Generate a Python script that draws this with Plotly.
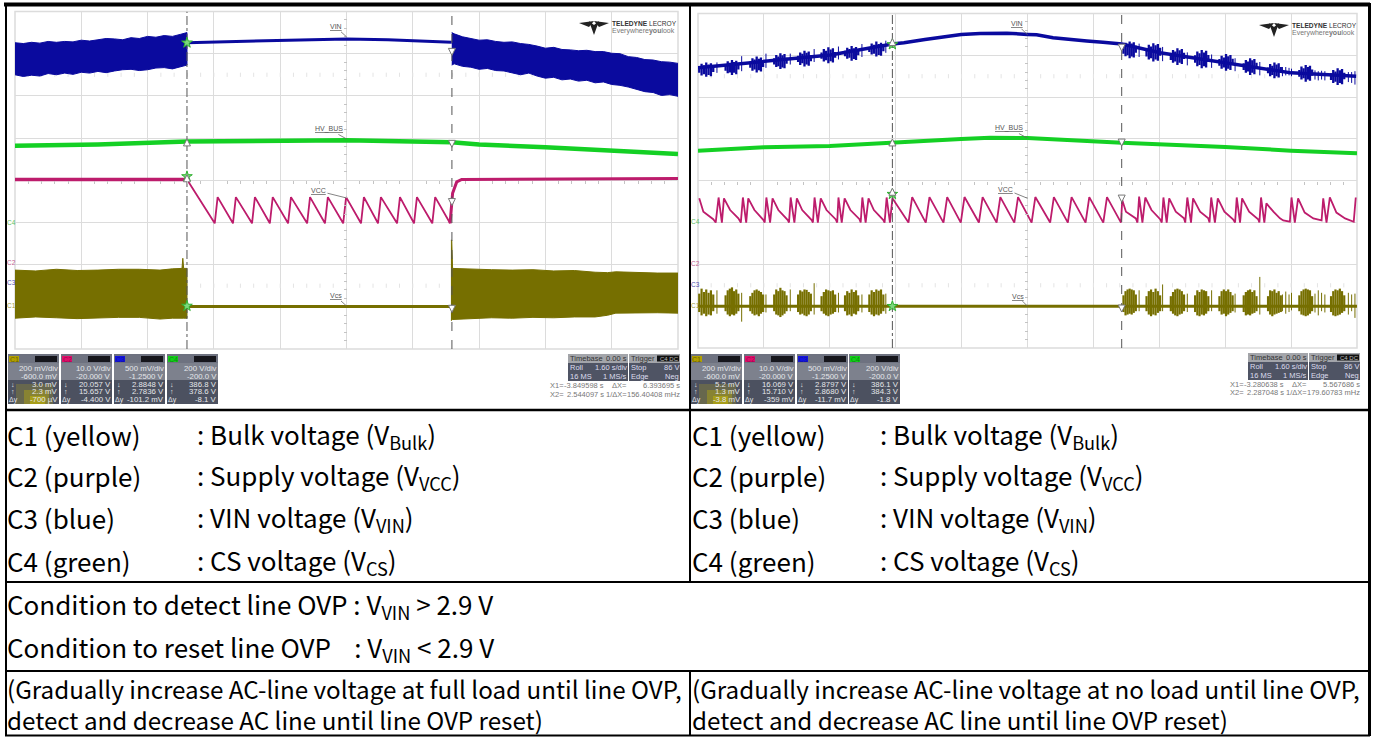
import numpy as np
import plotly.graph_objects as go

W, H = 1375, 738

# ---------- readings: time in seconds, level in scope divisions from screen centre ----------
cursor_left = [-3.849598, 2.544097]
cursor_right = [-3.280638, 2.287048]

# LEFT SCREEN
l_c3_band1_t = [-8.0, -7.8, -7.6, -7.4, -7.2, -7.0, -6.8, -6.6, -6.4, -6.2, -6.0, -5.8, -5.6, -5.4, -5.2, -5.0, -4.8,
                -4.6, -4.4, -4.2, -4.0, -3.85]
l_c3_band1_top = [3.26, 3.24, 3.27, 3.25, 3.29, 3.27, 3.29, 3.28, 3.32, 3.30, 3.33, 3.36, 3.35, 3.33, 3.38, 3.36, 3.41,
                  3.39, 3.43, 3.41, 3.46, 3.50]
l_c3_band1_bot = [2.50, 2.46, 2.49, 2.47, 2.53, 2.50, 2.54, 2.51, 2.56, 2.54, 2.58, 2.55, 2.59, 2.62, 2.63, 2.60, 2.62,
                  2.66, 2.67, 2.64, 2.69, 2.73]
l_c3_thin_t = [-3.85, -3.0, -2.0, -1.0, 0.0, 1.0, 2.0, 2.54]
l_c3_thin = [3.26, 3.28, 3.32, 3.33, 3.35, 3.33, 3.29, 3.27]
l_c3_band2_t = [2.54, 2.6, 2.8, 3.0, 3.2, 3.4, 3.6, 3.8, 4.0, 4.2, 4.4, 4.6, 4.8, 5.0, 5.2, 5.4, 5.6, 5.8, 6.0, 6.2,
                6.4, 6.6, 6.8, 7.0, 7.2, 7.4, 7.6, 7.8, 8.0]
l_c3_band2_top = [3.50, 3.47, 3.40, 3.36, 3.32, 3.33, 3.29, 3.27, 3.28, 3.24, 3.22, 3.18, 3.13, 3.15, 3.10, 3.09, 3.07,
                  3.08, 3.05, 3.05, 3.01, 3.00, 2.93, 2.91, 2.86, 2.85, 2.81, 2.80, 2.77]
l_c3_band2_bot = [2.73, 2.76, 2.70, 2.68, 2.63, 2.65, 2.60, 2.59, 2.55, 2.50, 2.54, 2.47, 2.42, 2.44, 2.38, 2.40, 2.35,
                  2.37, 2.31, 2.33, 2.27, 2.25, 2.21, 2.16, 2.10, 2.08, 2.01, 2.03, 1.99]
l_c4_t = [-8.0, -6.0, -3.85, 0.0, 2.54, 3.2, 4.8, 6.4, 8.0]
l_c4 = [0.82, 0.85, 0.92, 0.95, 0.90, 0.85, 0.78, 0.71, 0.62]
l_c2_flat_t = [-8.0, -3.85]
l_c2_flat = [0.02, 0.02]
l_c2_saw_t = [-3.85, -3.18, -3.11, -2.74, -2.67, -2.28, -2.21, -1.85, -1.78, -1.41, -1.34, -0.95, -0.88,
              -0.52, -0.45, -0.08, -0.01, 0.35, 0.42, 0.76, 0.83, 1.22, 1.29, 1.63, 1.70, 2.07, 2.14, 2.50,
              2.56, 2.66, 2.78, 8.0]
l_c2_saw = [0.02, -1.02, -0.40, -1.02, -0.40, -1.02, -0.40, -1.02, -0.40, -1.02, -0.40, -1.02, -0.40,
            -1.02, -0.40, -1.02, -0.40, -1.02, -0.40, -1.02, -0.40, -1.02, -0.40, -1.02, -0.40, -1.02, -0.40, -1.02,
            -0.31, -0.04, 0.02, 0.04]
l_c1_band1_t = [-8.0, -7.5, -7.0, -6.5, -6.0, -5.5, -5.0, -4.5, -4.2, -3.97, -3.95, -3.93, -3.85]
l_c1_band1_top = [-2.13, -2.15, -2.11, -2.14, -2.13, -2.11, -2.11, -2.13, -2.10, -2.09, -1.85, -2.09, -2.09]
l_c1_band1_bot = [-3.27, -3.24, -3.26, -3.28, -3.27, -3.25, -3.25, -3.29, -3.27, -3.26, -3.27, -3.27, -3.27]
l_c1_thin_t = [-3.85, 2.50]
l_c1_thin = [-2.99, -2.99]
l_c1_band2_t = [2.52, 2.54, 2.56, 3.0, 3.5, 4.0, 4.5, 5.0, 5.5, 6.0, 6.3, 6.5, 7.0, 7.5, 8.0]
l_c1_band2_top = [-1.42, -1.42, -2.09, -2.11, -2.12, -2.13, -2.12, -2.15, -2.14, -2.18, -2.19, -2.17, -2.19, -2.20, -2.20]
l_c1_band2_bot = [-3.32, -3.32, -3.30, -3.28, -3.26, -3.27, -3.25, -3.26, -3.24, -3.24, -3.20, -3.15, -3.15, -3.14, -3.15]

# RIGHT SCREEN
r_c3_t = [-8.0, -6.4, -4.79, -3.28, -3.0, -2.49, -2.05, -1.61, -1.15, -0.5, 0.0, 0.22, 0.62, 0.95, 1.44, 1.83, 2.29,
          3.22, 4.79, 6.40, 7.98]
r_c3 = [2.70, 2.85, 3.01, 3.27, 3.30, 3.38, 3.45, 3.50, 3.52, 3.53, 3.50, 3.49, 3.42, 3.38, 3.34, 3.31, 3.27,
        3.06, 2.82, 2.58, 2.50]
r_c4_t = [-8.0, -6.4, -4.8, -3.28, -1.61, -0.91, 0.0, 2.29, 3.22, 4.8, 6.4, 8.0]
r_c4 = [0.72, 0.80, 0.83, 0.92, 1.00, 1.03, 1.02, 0.91, 0.88, 0.81, 0.72, 0.66]
r_c2_t = [-7.97, -7.87, -7.63, -7.57, -7.50, -7.42, -7.37, -7.22, -7.02, -6.96, -6.91, -6.83, -6.78, -6.63, -6.41,
          -6.38, -6.34, -6.25, -6.19, -6.05, -5.82, -5.79, -5.75, -5.66, -5.60, -5.47, -5.24, -5.21, -5.17, -5.09,
          -5.02, -4.88, -4.66, -4.62, -4.59, -4.51, -4.44, -4.30, -4.08, -4.05, -4.01, -3.93, -3.86, -3.73, -3.50,
          -3.47, -3.42, -3.34, -3.28,
          -2.89, -2.80, -2.47, -2.38, -2.04, -1.95, -1.62, -1.53, -1.18, -1.09, -0.75, -0.66, -0.32, -0.23, 0.10, 0.19,
          0.55, 0.64, 0.98, 1.07, 1.41, 1.50, 1.84, 1.93, 2.27,
          2.30, 2.39, 2.63, 2.67, 2.71, 2.79, 2.86, 3.01, 3.22, 3.26, 3.30, 3.38, 3.44, 3.60, 3.80, 3.83, 3.88, 3.97,
          4.02, 4.19, 4.39, 4.42, 4.46, 4.55, 4.62, 4.78, 4.99, 5.04, 5.08, 5.16, 5.21, 5.38, 5.60, 5.63, 5.67, 5.75,
          5.80, 5.97, 6.13, 6.21, 6.37, 6.41, 6.49, 6.57, 6.73, 6.94, 7.14, 7.18, 7.26, 7.34, 7.50, 7.71, 7.92, 7.97]
r_c2 = [-0.42, -0.74, -0.92, -1.00, -0.40, -1.00, -0.42, -0.70, -0.90, -1.00, -0.40, -1.00, -0.42, -0.70, -0.94,
        -1.00, -0.40, -1.00, -0.42, -0.70, -0.94, -1.00, -0.40, -1.00, -0.42, -0.70, -0.94, -1.00, -0.40, -1.00,
        -0.42, -0.70, -0.92, -1.00, -0.40, -1.00, -0.42, -0.70, -0.92, -1.00, -0.40, -1.00, -0.42, -0.70, -0.94,
        -1.00, -0.40, -1.00, -0.42,
        -1.00, -0.39, -1.00, -0.39, -1.00, -0.39, -1.00, -0.39, -1.00, -0.39, -1.00, -0.39, -1.00, -0.39, -1.00, -0.39,
        -1.00, -0.39, -1.00, -0.39, -1.00, -0.39, -1.00, -0.39, -1.00,
        -0.46, -0.74, -0.90, -1.00, -0.38, -1.00, -0.40, -0.70, -0.92, -1.00, -0.40, -1.00, -0.42, -0.74, -0.90, -1.00,
        -0.40, -1.00, -0.42, -0.74, -0.90, -1.00, -0.40, -1.00, -0.42, -0.74, -0.92, -1.00, -0.40, -1.00, -0.42, -0.74,
        -0.92, -1.00, -0.40, -1.00, -0.54, -0.74, -0.90, -0.95, -0.98, -0.40, -1.00, -0.42, -0.76, -0.90, -0.95, -0.42,
        -1.00, -0.40, -0.76, -0.90, -0.98, -0.40]

r_burst_start = [-7.97, -7.33, -6.73, -6.15, -5.57, -5.00, -4.43, -3.84, 2.33, 2.89, 3.48, 4.07, 4.66, 5.25, 5.84, 6.60, 7.37]
r_burst_end = [-7.63, -7.02, -6.42, -5.85, -5.26, -4.67, -4.11, -3.50, 2.63, 3.22, 3.80, 4.39, 4.98, 5.56, 6.15, 6.91, 7.69]
r_c3_burst_top = [
    [2.72, 2.80, 2.76, 2.83, 2.78, 2.81, 2.73], [2.78, 2.86, 2.82, 2.89, 2.84, 2.87, 2.79],
    [2.85, 2.93, 2.90, 2.97, 2.92, 2.95, 2.86], [2.93, 3.01, 2.97, 3.05, 3.00, 3.03, 2.94],
    [2.99, 3.07, 3.04, 3.11, 3.06, 3.09, 3.00], [3.07, 3.15, 3.11, 3.19, 3.14, 3.17, 3.08],
    [3.11, 3.18, 3.15, 3.22, 3.17, 3.20, 3.12], [3.20, 3.28, 3.25, 3.33, 3.27, 3.30, 3.21],
    [3.22, 3.30, 3.26, 3.33, 3.28, 3.31, 3.23], [3.17, 3.25, 3.21, 3.29, 3.24, 3.27, 3.18],
    [3.05, 3.13, 3.09, 3.17, 3.12, 3.15, 3.06], [3.00, 3.09, 3.05, 3.13, 3.07, 3.11, 3.01],
    [2.91, 2.99, 2.95, 3.03, 2.98, 3.01, 2.92], [2.81, 2.89, 2.85, 2.93, 2.88, 2.91, 2.82],
    [2.71, 2.79, 2.75, 2.83, 2.78, 2.81, 2.72], [2.65, 2.73, 2.69, 2.77, 2.72, 2.75, 2.66],
    [2.57, 2.65, 2.61, 2.69, 2.64, 2.67, 2.58]]
r_c3_burst_bot = [
    [2.58, 2.52, 2.55, 2.49, 2.53, 2.50, 2.60], [2.63, 2.57, 2.59, 2.53, 2.58, 2.55, 2.66],
    [2.70, 2.63, 2.66, 2.59, 2.64, 2.61, 2.72], [2.78, 2.72, 2.74, 2.67, 2.71, 2.69, 2.80],
    [2.84, 2.77, 2.81, 2.73, 2.78, 2.75, 2.86], [2.92, 2.85, 2.88, 2.81, 2.86, 2.83, 2.94],
    [2.98, 2.92, 2.94, 2.87, 2.91, 2.89, 3.00], [3.08, 3.02, 3.04, 2.97, 3.01, 2.99, 3.10],
    [3.04, 2.98, 3.00, 2.93, 2.97, 2.95, 3.06], [2.97, 2.90, 2.93, 2.85, 2.90, 2.87, 2.99],
    [2.89, 2.82, 2.85, 2.77, 2.82, 2.79, 2.91], [2.82, 2.74, 2.77, 2.69, 2.74, 2.71, 2.84],
    [2.75, 2.68, 2.71, 2.63, 2.68, 2.65, 2.77], [2.65, 2.58, 2.61, 2.53, 2.58, 2.55, 2.67],
    [2.57, 2.50, 2.53, 2.45, 2.50, 2.47, 2.59], [2.49, 2.42, 2.45, 2.37, 2.42, 2.39, 2.51],
    [2.41, 2.34, 2.37, 2.29, 2.34, 2.31, 2.43]]
r_c1_burst_top = [
    [-2.70, -2.58, -2.66, -2.60, -2.68, -2.62, -2.72], [-2.74, -2.62, -2.58, -2.55, -2.64, -2.60, -2.70],
    [-2.76, -2.68, -2.62, -2.60, -2.63, -2.66, -2.72], [-2.72, -2.60, -2.64, -2.56, -2.62, -2.64, -2.74],
    [-2.72, -2.62, -2.65, -2.60, -2.61, -2.66, -2.70], [-2.76, -2.66, -2.60, -2.62, -2.64, -2.62, -2.72],
    [-2.74, -2.64, -2.68, -2.60, -2.66, -2.62, -2.74], [-2.72, -2.62, -2.66, -2.60, -2.63, -2.60, -2.72],
    [-2.74, -2.64, -2.60, -2.58, -2.60, -2.62, -2.72], [-2.76, -2.64, -2.60, -2.66, -2.58, -2.64, -2.74],
    [-2.76, -2.66, -2.60, -2.58, -2.60, -2.64, -2.72], [-2.74, -2.62, -2.66, -2.60, -2.62, -2.64, -2.76],
    [-2.76, -2.64, -2.60, -2.64, -2.60, -2.66, -2.74], [-2.74, -2.66, -2.62, -2.60, -2.66, -2.62, -2.76],
    [-2.76, -2.62, -2.64, -2.60, -2.68, -2.64, -2.74], [-2.74, -2.64, -2.60, -2.58, -2.60, -2.62, -2.76],
    [-2.76, -2.64, -2.60, -2.62, -2.58, -2.64, -2.74]]
r_c1_burst_bot = [
    [-3.14, -3.22, -3.18, -3.24, -3.20, -3.22, -3.12], [-3.12, -3.20, -3.24, -3.20, -3.22, -3.18, -3.12],
    [-3.12, -3.18, -3.22, -3.20, -3.24, -3.18, -3.14], [-3.12, -3.20, -3.22, -3.26, -3.22, -3.18, -3.12],
    [-3.14, -3.20, -3.18, -3.22, -3.24, -3.20, -3.12], [-3.12, -3.18, -3.22, -3.24, -3.20, -3.18, -3.14],
    [-3.12, -3.22, -3.20, -3.24, -3.18, -3.20, -3.12], [-3.14, -3.20, -3.24, -3.20, -3.22, -3.18, -3.12],
    [-3.14, -3.22, -3.20, -3.18, -3.20, -3.16, -3.12], [-3.12, -3.20, -3.24, -3.20, -3.22, -3.16, -3.12],
    [-3.12, -3.18, -3.22, -3.24, -3.20, -3.18, -3.12], [-3.14, -3.22, -3.24, -3.20, -3.22, -3.18, -3.12],
    [-3.12, -3.20, -3.18, -3.24, -3.20, -3.16, -3.12], [-3.14, -3.22, -3.20, -3.22, -3.18, -3.16, -3.12],
    [-3.12, -3.20, -3.24, -3.20, -3.18, -3.16, -3.14], [-3.12, -3.20, -3.22, -3.24, -3.22, -3.18, -3.12],
    [-3.14, -3.22, -3.24, -3.22, -3.20, -3.16, -3.12]]
r_spike_t = [-7.54, -6.94, -6.35, -5.76, -5.18, -4.59, -4.02, -3.44, 2.71, 3.28, 3.88, 4.47, 5.04, 5.64,
             6.19, 6.27, 6.35, 6.41, 6.98, 7.06, 7.14, 7.22, 7.79, 7.87, 7.95]
r_c3_spike_top = [2.83, 2.98, 3.04, 3.04, 3.15, 3.21, 3.27, 3.35, 3.28, 3.20, 3.07, 3.02, 2.93, 2.84,
                  2.72, 2.72, 2.70, 2.68, 2.64, 2.62, 2.63, 2.62, 2.60, 2.60, 2.62]
r_c3_spike_bot = [2.58, 2.62, 2.70, 2.78, 2.84, 2.90, 2.96, 3.06, 2.96, 2.86, 2.76, 2.70, 2.62, 2.52,
                  2.50, 2.52, 2.52, 2.50, 2.42, 2.40, 2.42, 2.40, 2.36, 2.34, 2.30]
r_c1_spike_top = [-2.62, -2.68, -2.72, -2.60, -2.45, -2.68, -2.72, -2.70, -2.62, -2.48, -2.70, -2.62, -2.70, -2.30,
                  -2.72, -2.65, -2.72, -2.68, -2.70, -2.62, -2.68, -2.72, -2.68, -2.72, -2.70]
r_c1_spike_bot = [-3.18, -3.37, -3.15, -3.12, -3.20, -3.15, -3.15, -3.18, -3.12, -3.12, -3.14, -3.12, -3.15, -3.20,
                  -3.12, -3.18, -3.14, -3.10, -3.15, -3.22, -3.12, -3.15, -3.20, -3.12, -3.28]
r_c1_level_t = [-8.0, 8.0]
r_c1_level = [-3.00, -3.00]

# Cursor markers on the traces
l_star_y = [3.26, 0.09, -2.98]
l_up_y = [0.98, 0.13]
l_down_y = [2.96, 0.78, -0.60, -3.13]
r_star_y = [3.26, -0.32, -3.00]
r_up_y = [3.40, 1.00, -0.18]
r_down_y = [3.10, 0.83, -0.51, -3.14]

# Texts
chan_names = ["C1", "C2", "C3", "C4"]
left_readouts = [["200 mV/div", "-600.0 mV", "3.0 mV", "2.3 mV", "-700 µV"],
                 ["10.0 V/div", "-20.000 V", "20.057 V", "15.657 V", "-4.400 V"],
                 ["500 mV/div", "-1.2500 V", "2.8848 V", "2.7836 V", "-101.2 mV"],
                 ["200 V/div", "-200.0 V", "386.8 V", "378.6 V", "-8.1 V"]]
right_readouts = [["200 mV/div", "-600.0 mV", "5.2 mV", "1.3 mV", "-3.8 mV"],
                  ["10.0 V/div", "-20.000 V", "16.069 V", "15.710 V", "-359 mV"],
                  ["500 mV/div", "-1.2500 V", "2.8797 V", "2.8680 V", "-11.7 mV"],
                  ["200 V/div", "-200.0 V", "386.1 V", "384.3 V", "-1.8 V"]]
cursor_text_left = ["-3.849598 s", "6.393695 s", "2.544097 s", "156.40408 mHz"]
cursor_text_right = ["-3.280638 s", "5.567686 s", "2.287048 s", "179.60783 mHz"]
legend_rows = [("C1 (yellow)", ": Bulk voltage (V<sub>Bulk</sub>)"),
               ("C2 (purple)", ": Supply voltage (V<sub>VCC</sub>)"),
               ("C3 (blue)", ": VIN voltage (V<sub>VIN</sub>)"),
               ("C4 (green)", ": CS voltage (V<sub>CS</sub>)")]
cond_rows = ["Condition to detect line OVP : V<sub>VIN</sub> > 2.9 V",
             "Condition to reset line OVP&nbsp;&nbsp;&nbsp;&nbsp;: V<sub>VIN</sub> < 2.9 V"]
left_notes = ["(Gradually increase AC-line voltage at full load until line OVP,",
              "detect and decrease AC line until line OVP reset)"]
right_notes = ["(Gradually increase AC-line voltage at no load until line OVP,",
               "detect and decrease AC line until line OVP reset)"]

# ---------- styling ----------
BLUE, GREEN, PURPLE, OLIVE = "#0a0a9e", "#14d024", "#bd1c6c", "#766f00"
GRID = "#dcdcdc"
TEXT_FONT = "Noto Sans CJK KR"
SCOPE_FONT = "Liberation Sans"


def px(x):
    return x / W


def py(y):
    return 1 - y / H


shapes, annos = [], []


def rect(x0, y0, x1, y1, fill, line=None, lw=0, opacity=1, layer="above"):
    shapes.append(dict(type="rect", xref="paper", yref="paper", x0=px(x0), x1=px(x1), y0=py(y0), y1=py(y1),
                       fillcolor=fill, opacity=opacity, layer=layer,
                       line=dict(color=line or fill, width=lw)))


def line(x0, y0, x1, y1, color="black", width=2):
    shapes.append(dict(type="line", xref="paper", yref="paper", x0=px(x0), x1=px(x1), y0=py(y0), y1=py(y1),
                       line=dict(color=color, width=width)))


def poly(points, fill):
    path = "M " + " L ".join(f"{px(a):.5f},{py(b):.5f}" for a, b in points) + " Z"
    shapes.append(dict(type="path", xref="paper", yref="paper", path=path, fillcolor=fill,
                       line=dict(width=0, color=fill)))


def txt(x, y, s, size, color="#000", anchor="left", font=SCOPE_FONT):
    annos.append(dict(x=px(x), y=py(y), xref="paper", yref="paper", text=s, showarrow=False, xanchor=anchor,
                      yanchor="middle", align=anchor, font=dict(size=size, color=color, family=font),
                      borderpad=0, borderwidth=0, xshift=0, yshift=0))


fig = go.Figure()


def add_line(ax, x, y, color, width, dash=None, name=None):
    fig.add_trace(go.Scatter(x=x, y=y, mode="lines", xaxis=f"x{ax}", yaxis=f"y{ax}", hoverinfo="skip",
                             line=dict(color=color, width=width, dash=dash), showlegend=False, name=name,
                             connectgaps=False))


def add_band(ax, t, top, bot, color):
    fig.add_trace(go.Scatter(x=list(t) + list(t)[::-1], y=list(top) + list(bot)[::-1], mode="lines",
                             xaxis=f"x{ax}", yaxis=f"y{ax}", fill="toself", fillcolor=color, hoverinfo="skip",
                             line=dict(color=color, width=1), showlegend=False))


def add_sticks(ax, starts, ends, tops, bots, color, width):
    xs, ys = [], []
    for s, e, tp, bt in zip(starts, ends, tops, bots):
        for t, a, b in zip(np.linspace(s, e, len(tp)), tp, bt):
            xs += [t, t, None]
            ys += [b, a, None]
    add_line(ax, xs, ys, color, width)


def add_spikes(ax, t, tops, bots, color, width):
    xs, ys = [], []
    for tt, a, b in zip(t, tops, bots):
        xs += [tt, tt, None]
        ys += [b, a, None]
    add_line(ax, xs, ys, color, width)


def markers(ax, x, y, symbol, color, size, outline="#777777", lw=1):
    fig.add_trace(go.Scatter(x=x, y=y, mode="markers", xaxis=f"x{ax}", yaxis=f"y{ax}", hoverinfo="skip",
                             cliponaxis=False, showlegend=False,
                             marker=dict(symbol=symbol, color=color, size=size, line=dict(color=outline, width=lw))))


faint_t = np.arange(-8, 8.01, 0.32)
for ax in (1, 2):
    markers(ax, faint_t, [2.5] * len(faint_t), "line-ns", "#e4e4e4", 3, outline="#e4e4e4")
    markers(ax, faint_t, [-2.5] * len(faint_t), "line-ns", "#e4e4e4", 3, outline="#e4e4e4")

# Left screen traces
add_band(1, l_c3_band1_t, l_c3_band1_top, l_c3_band1_bot, BLUE)
add_line(1, l_c3_thin_t, l_c3_thin, BLUE, 3)
add_band(1, l_c3_band2_t, l_c3_band2_top, l_c3_band2_bot, BLUE)
add_line(1, l_c4_t, l_c4, GREEN, 4.5)
add_line(1, l_c2_flat_t, l_c2_flat, PURPLE, 3.5)
add_line(1, l_c2_saw_t[:-4], l_c2_saw[:-4], PURPLE, 1.8)
add_line(1, l_c2_saw_t[-5:], l_c2_saw[-5:], PURPLE, 3)
add_band(1, l_c1_band1_t, l_c1_band1_top, l_c1_band1_bot, OLIVE)
add_line(1, l_c1_thin_t, l_c1_thin, OLIVE, 3)
add_band(1, l_c1_band2_t, l_c1_band2_top, l_c1_band2_bot, OLIVE)
add_line(1, [cursor_left[0]] * 2, [-4, 4], "#555555", 1, "dashdot")
add_line(1, [cursor_left[1]] * 2, [-4, 4], "#555555", 1, "dash")
markers(1, [cursor_left[0]] * 3, l_star_y, "star", "#7dd87d", 8, outline="#30b030")
markers(1, [cursor_left[0]] * 2, l_up_y, "arrow-up", "#ffffff", 7)
markers(1, [cursor_left[1]] * 4, l_down_y, "arrow-down", "#ffffff", 7)
markers(1, [0], [-4.08], "triangle-up", "#22cc44", 6, outline="#22cc44", lw=0)
markers(1, [8.05], [-0.57], "triangle-left", "#22cc44", 6, outline="#22cc44", lw=0)

# Right screen traces
add_line(2, r_c3_t, r_c3, BLUE, 3.5)
add_sticks(2, r_burst_start, r_burst_end, r_c3_burst_top, r_c3_burst_bot, BLUE, 2.3)
add_spikes(2, r_spike_t, r_c3_spike_top, r_c3_spike_bot, BLUE, 1)
add_line(2, r_c4_t, r_c4, GREEN, 4)
add_line(2, r_c2_t, r_c2, PURPLE, 1.8)
add_line(2, r_c1_level_t, r_c1_level, OLIVE, 3)
add_sticks(2, r_burst_start, r_burst_end, r_c1_burst_top, r_c1_burst_bot, OLIVE, 2.2)
add_spikes(2, r_spike_t, r_c1_spike_top, r_c1_spike_bot, OLIVE, 1)
add_line(2, [cursor_right[0]] * 2, [-4, 4], "#555555", 1, "dashdot")
add_line(2, [cursor_right[1]] * 2, [-4, 4], "#555555", 1, "dash")
markers(2, [cursor_right[0]] * 3, r_star_y, "star", "#7dd87d", 8, outline="#30b030")
markers(2, [cursor_right[0]] * 3, r_up_y, "arrow-up", "#ffffff", 7)
markers(2, [cursor_right[1]] * 4, r_down_y, "arrow-down", "#ffffff", 7)
markers(2, [0], [-4.08], "triangle-up", "#22cc44", 6, outline="#22cc44", lw=0)
markers(2, [8.05], [-0.57], "triangle-left", "#22cc44", 6, outline="#22cc44", lw=0)

# Channel labels on the traces, with pointers
for axn, labels in ((1, [("VIN", 3.40, -11, -10), ("HV_BUS", 0.98, -18, -10), ("VCC", -0.42, -28, -7), ("Vcs", -2.98, -11, -10)]),
                    (2, [("VIN", 3.49, -11, -11), ("HV_BUS", 1.02, -19, -10), ("VCC", -0.42, -22, -9), ("Vcs", -3.00, -10, -10)])):
    for name, yv, ax_off, ay_off in labels:
        annos.append(dict(x=0, y=yv, xref=f"x{axn}", yref=f"y{axn}", text=f"<u>{name}</u>", showarrow=True,
                          arrowhead=0, arrowwidth=0.8, arrowcolor="#666", ax=ax_off, ay=ay_off, standoff=0,
                          font=dict(size=7, color="#555", family=SCOPE_FONT)))

# Screen frames and table rules
rect(15, 11.5, 678, 349, "rgba(0,0,0,0)", GRID, 1.5, layer="below")
rect(698, 13.5, 1357, 348, "rgba(0,0,0,0)", GRID, 1.5, layer="below")
line(4, 4.5, 1370, 4.5, width=4)
line(6, 3, 6, 736)
line(1369.5, 3, 1369.5, 736, width=3)
line(690, 3, 690, 582)
line(690, 671, 690, 736)
line(5, 410, 1370, 410, width=2.5)
line(5, 582, 1370, 582)
line(5, 671, 1370, 671)
line(5, 735.5, 1370, 735.5, width=2)

# Teledyne logos
for x0, y0 in ((579, 20), (1259, 22)):
    poly([(x0, y0 + 3), (x0 + 15, y0 + 1), (x0 + 10, y0 + 7)], "#222222")
    poly([(x0 + 30, y0 + 3), (x0 + 15, y0 + 1), (x0 + 20, y0 + 7)], "#222222")
    poly([(x0 + 10, y0 + 1), (x0 + 15, y0 + 15), (x0 + 20, y0 + 1), (x0 + 15, y0 + 5)], "#222222")
    txt(x0 + 33, y0 + 3.5, "<b>TELEDYNE</b> LECROY", 6.6, "#333333")
    txt(x0 + 33, y0 + 11, "Everywhere<b>you</b>look", 7, "#777777")

# Vertical-scale reference labels at the left of each screen
for x0, rows in ((11, [("C4", "#60c060", 223), ("C2", "#c06090", 262), ("C3", "#5050b0", 283), ("C1", "#a0a040", 305)]),
                 (695, [("C4", "#60c060", 221), ("C2", "#c06090", 263), ("C3", "#5050b0", 284), ("C1", "#a0a040", 305)])):
    for name, col, yy in rows:
        txt(x0, yy, name, 6.5, col, "center")


# Channel read-out boxes
def readout(x0, w, top, vals, name, color, text_color):
    r = x0 + w
    rect(x0, top, r, top + 50, "#4c5160")
    rect(x0, top, r, top + 9, "#6e7280")
    rect(x0, top + 9, r, top + 26, "#7d818d")
    rect(x0, top + 26, r, top + 50, "#4c5160")
    rect(x0 + 1, top + 2, x0 + 11, top + 8, color)
    txt(x0 + 6, top + 5, name, 7, text_color, "center")
    rect(x0 + 27, top + 2, r - 2, top + 8, "#16161c")
    if name == "C1":
        rect(x0 + 8, top + 30, r - 6, top + 50, "#b9ad12", opacity=0.25)
        rect(x0 + 16, top + 36, r - 10, top + 50, "#c6b800", opacity=0.35)
        rect(x0 + 22, top + 42, r - 14, top + 50, "#c6b800", opacity=0.5)
    for v, off in zip(vals, (14.5, 22, 30, 37.5, 45.5)):
        txt(r - 1, top + off, v, 7.8, "#e4e6ea", "right")
    txt(x0 + 3, top + 30, "↓", 7, "#e4e6ea")
    txt(x0 + 3, top + 37.5, "↑", 7, "#e4e6ea")
    txt(x0 + 1, top + 45.5, "Δy", 7, "#e4e6ea")


chip_colors = ["#b3a000", "#e0106a", "#1414e0", "#12d018"]
chip_text = ["#6a6000", "#a00050", "#1010a0", "#0a8a10"]
for i, x0 in enumerate((8, 61, 114, 167)):
    readout(x0, 51, 354, left_readouts[i], chan_names[i], chip_colors[i], chip_text[i])
for i, x0 in enumerate((691, 744, 797, 849)):
    readout(x0, 51, 354, right_readouts[i], chan_names[i], chip_colors[i], chip_text[i])


# Timebase / trigger boxes and cursor read-outs
def timebox(x0, top, cur):
    a0, a1, b0, b1 = x0, x0 + 60, x0 + 61, x0 + 112
    for l, r in ((a0, a1), (b0, b1)):
        rect(l, top, r, top + 9, "#a3a5aa")
        rect(l, top + 9, r, top + 27, "#4f5464")
    txt(a0 + 2, top + 4.5, "Timebase", 7.5, "#333")
    txt(a1 - 1, top + 4.5, "0.00 s", 7.5, "#333", "right")
    rect(b1 - 23, top + 1.5, b1 - 1, top + 7.5, "#111")
    txt(b0 + 2, top + 4.5, "Trigger", 7.5, "#333")
    txt(b1 - 1, top + 4.5, "C4 DC", 6, "#bbb", "right")
    for l, v, off in (("Roll", "1.60 s/div", 13.5), ("16 MS", "1 MS/s", 22)):
        txt(a0 + 2, top + off, l, 7.5, "#dde")
        txt(a1 - 1, top + off, v, 7.5, "#dde", "right")
    for l, v, off in (("Stop", "86 V", 13.5), ("Edge", "Neg", 22)):
        txt(b0 + 2, top + off, l, 7.5, "#dde")
        txt(b1 - 1, top + off, v, 7.5, "#dde", "right")
    yy = top + 31
    txt(a0 - 18, yy, "X1=", 7.5, "#777")
    txt(a0 + 36, yy, cur[0], 7.5, "#777", "right")
    txt(b0 - 2, yy, "ΔX=", 7.5, "#777", "right")
    txt(b1, yy, cur[1], 7.5, "#777", "right")
    txt(a0 - 18, yy + 9, "X2=", 7.5, "#777")
    txt(a0 + 36, yy + 9, cur[2], 7.5, "#777", "right")
    txt(b0 - 2, yy + 9, "1/ΔX=", 7.5, "#777", "right")
    txt(b1, yy + 9, cur[3], 7.5, "#777", "right")


timebox(568, 354, cursor_text_left)
timebox(1248, 353, cursor_text_right)

# Table text
for (a, b), yy in zip(legend_rows, (434, 475, 517, 560)):
    txt(7, yy, a, 26, font=TEXT_FONT)
    txt(197, yy + 1, b, 26, font=TEXT_FONT)
    txt(692, yy, a, 26, font=TEXT_FONT)
    txt(880, yy + 1, b, 26, font=TEXT_FONT)
for s, yy in zip(cond_rows, (605, 648)):
    txt(7, yy, s, 26, font=TEXT_FONT)
for s, yy in zip(left_notes, (688, 719)):
    txt(7, yy, s, 24.2, font=TEXT_FONT)
for s, yy in zip(right_notes, (688, 719)):
    txt(692, yy, s, 24.2, font=TEXT_FONT)


def x_axis(l, r, cy):
    return dict(domain=[px(l), px(r)], range=[-8, 8], tick0=-8, dtick=1.6, showgrid=True, gridcolor=GRID, gridwidth=1,
                zeroline=False, showticklabels=False, ticks="", showline=False, anchor="free", position=py(cy),
                fixedrange=True,
                minor=dict(tick0=-8, dtick=0.32, ticks="outside", ticklen=3, tickcolor="#c4c4c4", showgrid=False))


def y_axis(t, b, cx):
    return dict(domain=[py(b), py(t)], range=[-4, 4], tick0=-4, dtick=1, showgrid=True, gridcolor=GRID, gridwidth=1,
                zeroline=False, showticklabels=False, ticks="", showline=False, anchor="free", position=px(cx),
                fixedrange=True,
                minor=dict(tick0=-4, dtick=0.2, ticks="outside", ticklen=3, tickcolor="#c4c4c4", showgrid=False))


fig.update_layout(
    width=W, height=H, margin=dict(l=0, r=0, t=0, b=0), paper_bgcolor="white", plot_bgcolor="white",
    showlegend=False, shapes=shapes, annotations=annos, hovermode=False,
    xaxis=x_axis(15, 678, 180), yaxis=y_axis(11.5, 349, 346.5),
    xaxis2=x_axis(698, 1357, 180.75), yaxis2=y_axis(13.5, 348, 1027.5),
)
fig.write_html("out.html", config=dict(displayModeBar=False),
               post_script="document.body.style.margin='0';document.body.style.overflow='hidden';")
